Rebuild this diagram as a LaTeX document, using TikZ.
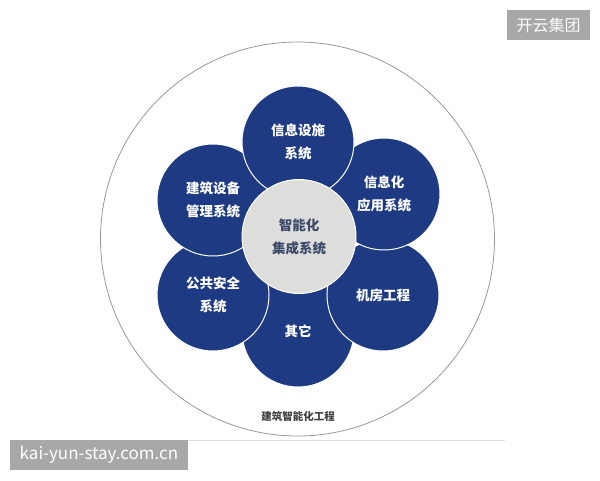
\documentclass[tikz,border=0pt]{standalone}
\usepackage{fontspec}
\newfontfamily\cjk{Noto Sans CJK SC}
\definecolor{petalblue}{HTML}{1D3A82}
\definecolor{coregray}{HTML}{DDDDDB}
\definecolor{coretext}{HTML}{3B4A6B}
\definecolor{markgray}{HTML}{A8A8A8}
\tikzset{
    petal/.style={circle, draw=white, line width=1pt, fill=petalblue,
        minimum size=112pt, inner sep=0pt, text=white, align=center,
        font=\cjk\bfseries\fontsize{13.5}{23}\selectfont},
    core/.style={petal, fill=coregray, text=coretext, minimum size=114pt},
    watermark/.style={fill=markgray, text=white, inner sep=0pt}
}
\begin{document}
\begin{tikzpicture}[x=1pt, y=-1pt]
    \useasboundingbox (0,0) rectangle (600,480);
    \fill[white] (0,0) rectangle (600,480);

    % outer ring and base line
    \node[circle, draw=gray!80, line width=0.8pt, minimum size=394pt, inner sep=0pt] (ring) at (297.5,239) {};
    \draw[gray!25, line width=0.8pt] (94,440) -- (505,440);
    \node[font=\cjk\bfseries\fontsize{10.5}{12}\selectfont, text=black!75] (title) at (298,416) {建筑智能化工程};

    % petals, lowest first
    \node[petal] (other) at (298,331) {其它};
    \node[petal] (safety) at (213,295) {公共安全\\系统};
    \node[petal] (machine) at (383,295) {机房工程};
    \node[petal] (bms) at (213,200) {建筑设备\\管理系统};
    \node[petal] (infoapp) at (384,194) {信息化\\应用系统};
    \node[petal] (infra) at (298,142) {信息设施\\系统};

    % centre
    \node[core] (hub) at (299,236.5) {智能化\\集成系统};

    % watermarks
    \node[watermark, minimum width=83pt, minimum height=30pt, font=\cjk\fontsize{16}{18}\selectfont] (brand) at (548.5,25) {开云集团};
    \node[watermark, minimum width=178pt, minimum height=30pt, font=\cjk\fontsize{17}{18}\selectfont] (site) at (99,455) {kai-yun-stay.com.cn};
\end{tikzpicture}
\end{document}
